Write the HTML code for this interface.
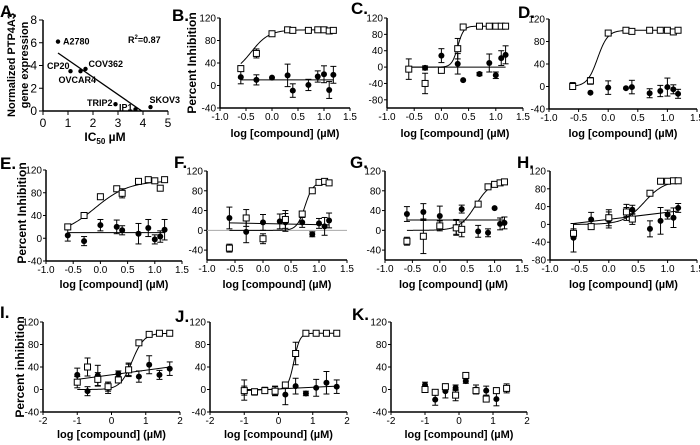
<!DOCTYPE html>
<html><head><meta charset="utf-8"><style>
html,body{margin:0;padding:0;background:#fff;}
svg{display:block;font-family:"Liberation Sans",Arial,sans-serif;}
</style></head><body>
<svg id="fig" width="700" height="445" viewBox="0 0 700 445" xmlns="http://www.w3.org/2000/svg"></svg>
<script>
// ---- Panel A data ----
const cellLines = ["A2780","CP20","OVCAR4","COV362","TRIP2","IP1","SKOV3"];
const ic50 = [0.6,1.1,1.5,1.7,2.9,3.7,4.3];
const expr = [6.1,3.5,3.5,3.7,0.6,0.15,0.35];
const fitA = [0.6,5.1,3.95,0.0];

// ---- Dose-response data ----
const xStd = [-0.6,-0.3,0,0.3,0.4,0.7,0.88,1.0,1.1,1.18];
const xWide = [-1,-0.7,-0.4,-0.1,0.2,0.5,0.8,1.1,1.4,1.7];
const xK = [-1,-0.7,-0.4,-0.1,0.2,0.5,0.8,1.1,1.4];

const sqB=[30,57,92,99,98,98,99,99,97,98], sqErrB=[5,8,2,2,2,2,2,2,2,2];
const fB=[15,10,14,18,-9,1,16,20,-8,19], fErrB=[12,9,0,20,12,10,10,15,15,15];
const fitB=[20,99,-0.4,2.5], flatB=[10];

const sqC=[-5,-40,-8,45,98,100,100,100,100,100], sqErrC=[5,25,5,25,2,2,2,2,2,2];
const fC=[-5,-2,28,8,-32,-17,10,-20,22,30], fErrC=[25,5,17,25,0,4,22,8,18,22];
const fitC=[0,100,0.3,8], flatC=[0];

const sqD=[0,10,95,100,98,100,100,100,97,100], sqErrD=[4,6,2,2,2,2,2,2,2,2];
const fD=[2,-11,-2,-3,-1,-12,-8,-1,-5,-13], fErrD=[5,0,12,0,12,8,10,16,8,8];
const fitD=[0,100,-0.18,5], flatD=[];

const sqE=[20,40,73,87,79,100,103,101,88,103], sqErrE=[5,3,3,3,8,2,2,2,3,2];
const fE=[5,-5,23,20,14,8,18,-2,3,15], fErrE=[10,8,10,12,8,18,15,8,10,18];
const fitE=[5,101,-0.1,1.4], flatE=[10];

const sqF=[-36,25,-17,null,22,33,80,97,99,96], sqErrF=[8,17,10,0,18,5,4,2,2,2];
const fF=[25,-3,16,18,16,16,-8,14,8,20], fErrF=[22,22,16,15,18,10,5,10,18,15];
const fitF=[0,98,0.75,6], flatF=[15,11];

const sqG=[-22,-12,9,5,2,53,88,93,96,98], sqErrG=[8,35,10,15,15,5,3,3,3,3];
const fG=[33,37,29,7,43,-2,-5,45,13,15], fErrG=[15,17,20,15,8,12,8,0,12,12];
const fitG=[0,100,0.65,3], flatG=[21,21];

const sqH=[-20,-5,15,28,12,70,97,97,98,98], sqErrH=[10,6,18,10,12,5,2,2,2,2];
const fH=[-30,11,10,27,33,-10,8,22,15,37], fErrH=[32,16,18,18,10,18,30,10,22,10];
const fitH=[0,99,0.6,2.5], flatH=[2,30];

const sqI=[13,40,18,5,17,35,83,98,100,100], sqErrI=[10,16,12,8,5,10,3,2,2,2];
const fI=[26,-3,25,3,28,35,23,44,26,37], fErrI=[12,8,18,10,5,12,10,16,8,12];
const fitI=[0,100,0.6,2.5], flatI=[18,40];

const sqJ=[-2,-4,-2,-3,8,64,100,100,100,100], sqErrJ=[8,5,5,8,5,20,2,2,2,2];
const fJ=[-1,-5,-1,-2,-9,6,-7,3,12,5], fErrJ=[18,5,5,8,18,14,4,15,20,12];
const fitJ=[0,100,0.45,5], flatJ=[-2,6];

const sqK=[0,-5,5,-10,25,-2,-17,-2,2], sqErrK=[5,5,5,10,5,5,5,5,5];
const fK=[8,-18,-3,3,15,0,-2,-17,2], fErrK=[5,10,12,5,4,8,8,12,8];

const xTicksStd=["-1.0","-0.5","0.0","0.5","1.0","1.5"];
const xTicksWide=["-2","-1","0","1","2"];

const NS="http://www.w3.org/2000/svg";
const svg=document.getElementById('fig');
function mk(tag,attrs,parent){const e=document.createElementNS(NS,tag);for(const k in attrs)e.setAttribute(k,attrs[k]);(parent||svg).appendChild(e);return e;}
function txt(s,attrs,parent){const e=mk('text',attrs,parent);e.textContent=s;return e;}

// ---- Panel A ----
(function(){
  const g=mk('g',{});
  
  
  const X=v=>43+v*(168-43)/5, Y=v=>111-v*(111-20)/8;
  txt("A.",{x:0,y:17,'font-size':17,'font-weight':'bold'},g);
  mk('line',{x1:43,y1:20,x2:43,y2:111,stroke:'#000','stroke-width':1.5},g);
  mk('line',{x1:43,y1:111,x2:168,y2:111,stroke:'#000','stroke-width':1.5},g);
  for(let v=0;v<=8;v+=2){mk('line',{x1:39,y1:Y(v),x2:43,y2:Y(v),stroke:'#000'},g);txt(String(v),{x:37,y:Y(v)+4,'font-size':12,'text-anchor':'end'},g);}
  for(let v=0;v<=5;v++){mk('line',{x1:X(v),y1:111,x2:X(v),y2:115,stroke:'#000'},g);txt(String(v),{x:X(v),y:127,'font-size':12,'text-anchor':'middle'},g);}
  const t=txt("Normalized PTP4A3",{x:0,y:0,'font-size':11,'font-weight':'bold','text-anchor':'middle',transform:'translate(15,65) rotate(-90)'},g);
  
  txt("gene expression",{x:0,y:0,'font-size':11,'font-weight':'bold','text-anchor':'middle',transform:'translate(28,65) rotate(-90)'},g);
  const xt=txt("",{x:105,y:141,'font-size':12,'font-weight':'bold','text-anchor':'middle'},g);
  xt.innerHTML='IC<tspan font-size="8" dy="3">50</tspan><tspan dy="-3"> µM</tspan>';
  
  mk('line',{x1:X(fitA[0]),y1:Y(fitA[1]),x2:X(fitA[2]),y2:Y(fitA[3]),stroke:'#000','stroke-width':1.3},g);
  const lab=[[5,3],[-1,-2],[-22,12],[3,-2],[-3,2],[-3,1],[-1,-4]];
  const anchor=['start','end','start','start','end','end','start'];
  for(let i=0;i<ic50.length;i++){
    const c=mk('circle',{cx:X(ic50[i]),cy:Y(expr[i]),r:2.2,fill:'#000'},g);
    
    
    txt(cellLines[i],{x:X(ic50[i])+lab[i][0],y:Y(expr[i])+lab[i][1],'font-size':9,'font-weight':'bold','text-anchor':anchor[i]},g);
  }
  const r=txt("",{x:128,y:43,'font-size':9,'font-weight':'bold'},g);
  r.innerHTML='R<tspan font-size="6" dy="-4">2</tspan><tspan dy="4">=0.87</tspan>';
  
})();

// ---- Dose-response panels ----
const panels=[
 {id:'b',L:'B.',lx:172,ly:21,left:220,right:350,top:18,bot:108,xmin:-1,xmax:1.5,ymin:-40,ymax:120,xt:xTicksStd,yt:[-40,0,40,80,120],xs:xStd,sq:sqB,sqE:sqErrB,f:fB,fE:fErrB,fit:fitB,flat:flatB,ytitle:[192,63,'Percent Inhibition'],xl:133},
 {id:'c',L:'C.',lx:351,ly:14,left:387,right:523,top:18,bot:108,xmin:-1,xmax:1.5,ymin:-100,ymax:120,xt:xTicksStd,yt:[-80,-40,0,40,80,120],xs:xStd,sq:sqC,sqE:sqErrC,f:fC,fE:fErrC,fit:fitC,flat:flatC,xl:133},
 {id:'d',L:'D.',lx:518,ly:18,left:549,right:697,top:19,bot:109,xmin:-1,xmax:1.5,ymin:-40,ymax:120,xt:xTicksStd,yt:[-40,0,40,80,120],xs:xStd,sq:sqD,sqE:sqErrD,f:fD,fE:fErrD,fit:fitD,flat:flatD,xl:133},
 {id:'e',L:'E.',lx:0,ly:169,left:46,right:182,top:170,bot:261,xmin:-1,xmax:1.5,ymin:-40,ymax:120,xt:xTicksStd,yt:[-40,0,40,80,120],xs:xStd,sq:sqE,sqE:sqErrE,f:fE,fE:fErrE,fit:fitE,flat:flatE,ytitle:[22,213,'Percent Inhibition'],xl:284},
 {id:'f',L:'F.',lx:174,ly:168,left:207,right:347,top:171,bot:260,xmin:-1,xmax:1.5,ymin:-60,ymax:120,xt:xTicksStd,yt:[-40,0,40,80,120],xs:xStd,sq:sqF,sqE:sqErrF,f:fF,fE:fErrF,fit:fitF,flat:flatF,zero:true,xl:284},
 {id:'g',L:'G.',lx:350,ly:168,left:385,right:522,top:171,bot:260,xmin:-1,xmax:1.5,ymin:-60,ymax:120,xt:xTicksStd,yt:[-40,0,40,80,120],xs:xStd,sq:sqG,sqE:sqErrG,f:fG,fE:fErrG,fit:fitG,flat:flatG,xl:284},
 {id:'h',L:'H.',lx:517,ly:168,left:550,right:697,top:171,bot:260,xmin:-1,xmax:1.5,ymin:-80,ymax:120,xt:xTicksStd,yt:[-80,-40,0,40,80,120],xs:xStd,sq:sqH,sqE:sqErrH,f:fH,fE:fErrH,fit:fitH,flat:flatH,xl:284},
 {id:'i',L:'I.',lx:0,ly:318,left:43,right:180,top:322,bot:412,xmin:-2,xmax:2,ymin:-40,ymax:120,xt:xTicksWide,yt:[-40,0,40,80,120],xs:xWide,sq:sqI,sqE:sqErrI,f:fI,fE:fErrI,fit:fitI,flat:flatI,ytitle:[20,367,'Percent inhibition'],xl:434},
 {id:'j',L:'J.',lx:175,ly:322,left:210,right:347,top:322,bot:412,xmin:-2,xmax:2,ymin:-40,ymax:120,xt:xTicksWide,yt:[-40,0,40,80,120],xs:xWide,sq:sqJ,sqE:sqErrJ,f:fJ,fE:fErrJ,fit:fitJ,flat:flatJ,xl:434},
 {id:'k',L:'K.',lx:352,ly:320,left:391,right:527,top:322,bot:412,xmin:-2,xmax:2,ymin:-40,ymax:120,xt:xTicksWide,yt:[-40,0,40,80,120],xs:xK,sq:sqK,sqE:sqErrK,f:fK,fE:fErrK,fit:null,flat:[],xl:434}
];

panels.forEach(p=>{
  const g=mk('g',{});
  
  
  const X=v=>p.left+(v-p.xmin)/(p.xmax-p.xmin)*(p.right-p.left);
  const Y=v=>p.bot-(v-p.ymin)/(p.ymax-p.ymin)*(p.bot-p.top);
  const L=txt(p.L,{x:p.lx,y:p.ly,'font-size':17,'font-weight':'bold'},g);
  
  
  mk('line',{x1:p.left,y1:p.top,x2:p.left,y2:p.bot,stroke:'#000','stroke-width':1.5},g);
  mk('line',{x1:p.left,y1:p.bot,x2:p.right,y2:p.bot,stroke:'#000','stroke-width':1.5},g);
  p.yt.forEach(v=>{mk('line',{x1:p.left-3,y1:Y(v),x2:p.left,y2:Y(v),stroke:'#000'},g);txt(String(v),{x:p.left-4,y:Y(v)+3.5,'font-size':10,'text-anchor':'end'},g);});
  const n=p.xt.length;
  p.xt.forEach((s,i)=>{const v=p.xmin+i*(p.xmax-p.xmin)/(n-1);mk('line',{x1:X(v),y1:p.bot,x2:X(v),y2:p.bot+3,stroke:'#000'},g);txt(s,{x:X(v),y:p.bot+12,'font-size':10,'text-anchor':'middle'},g);});
  const xt=txt("log [compound] (µM)",{x:(p.left+p.right)/2,y:p.xl+4,'font-size':11,'font-weight':'bold','text-anchor':'middle'},g);
  
  if(p.ytitle){const yt=txt(p.ytitle[2],{x:0,y:0,'font-size':12,'font-weight':'bold','text-anchor':'middle',transform:`translate(${p.ytitle[0]+4},${p.ytitle[1]}) rotate(-90)`},g);}
  if(p.zero){mk('line',{x1:p.left,y1:Y(0),x2:p.right,y2:Y(0),stroke:'#aaa','stroke-width':1},g);}
  const x0=p.xs[0], x1=p.xs[p.xs.length-1];
  if(p.fit){
    const [b,t,ec,h]=p.fit;let d='';
    for(let k=0;k<=120;k++){const x=x0+(x1-x0)*k/120;const y=b+(t-b)/(1+Math.pow(10,(ec-x)*h));d+=(k?'L':'M')+X(x).toFixed(2)+' '+Y(y).toFixed(2);}
    const c=mk('path',{d:d,fill:'none',stroke:'#000','stroke-width':1},g);
    
  }
  if(p.flat.length){
    const a=p.flat[0], b=p.flat.length>1?p.flat[1]:p.flat[0];
    const l=mk('line',{x1:X(x0),y1:Y(a),x2:X(x1),y2:Y(b),stroke:'#000','stroke-width':1},g);
    
  }
  function err(x,y,e){if(!e)return;mk('line',{x1:X(x),y1:Y(y-e),x2:X(x),y2:Y(y+e),stroke:'#000','stroke-width':1},g);[y-e,y+e].forEach(v=>mk('line',{x1:X(x)-3,y1:Y(v),x2:X(x)+3,y2:Y(v),stroke:'#000','stroke-width':1},g));}
  p.xs.forEach((x,i)=>{
    if(p.f[i]!=null){err(x,p.f[i],p.fE[i]);const c=mk('circle',{cx:X(x),cy:Y(p.f[i]),r:3,fill:'#000'},g);}
    if(p.sq[i]!=null){err(x,p.sq[i],p.sqE[i]);const r=mk('rect',{x:X(x)-3,y:Y(p.sq[i])-3,width:6,height:6,fill:'#fff',stroke:'#000','stroke-width':1},g);}
  });
});
</script>
</body></html>
